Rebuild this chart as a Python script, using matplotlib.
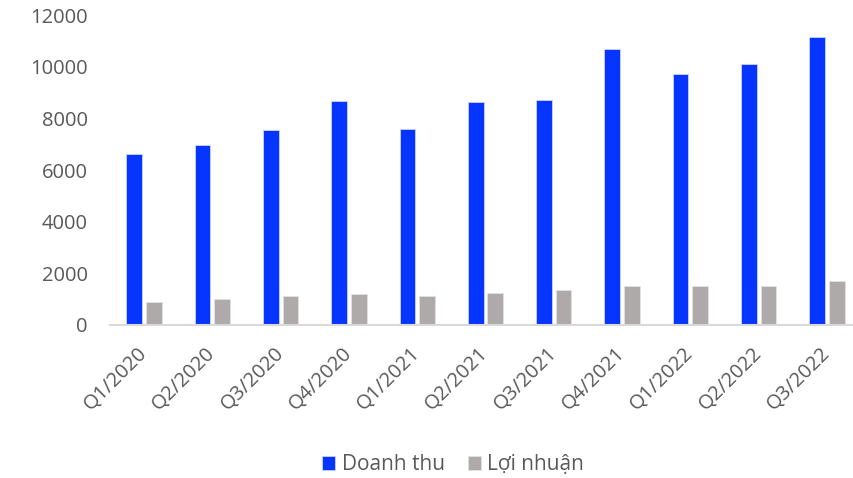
import matplotlib
matplotlib.use("Agg")
import matplotlib.pyplot as plt
import numpy as np

quarters = ["Q1/2020", "Q2/2020", "Q3/2020", "Q4/2020", "Q1/2021", "Q2/2021",
            "Q3/2021", "Q4/2021", "Q1/2022", "Q2/2022", "Q3/2022"]
doanh_thu = [6620, 6960, 7560, 8670, 7590, 8640, 8720, 10690, 9720, 10090, 11140]
loi_nhuan = [905, 1020, 1125, 1215, 1125, 1225, 1340, 1525, 1495, 1525, 1715]
y_ticks = [0, 2000, 4000, 6000, 8000, 10000, 12000]

plt.rcParams['font.family'] = ['Open Sans', 'DejaVu Sans']
text_color = '#595959'

fig = plt.figure(figsize=(8.54, 4.78), dpi=100)
ax = fig.add_axes([110/854, (478-325)/478, 751/854, 310/478])

x = np.arange(len(quarters))
w = 0.23
off = 0.144
ax.bar(x - off, doanh_thu, width=w, color='#0535FF', edgecolor='#C9D3FF',
       linewidth=0.6, label='Doanh thu')
ax.bar(x + off, loi_nhuan, width=w, color='#AEAAAA', edgecolor='#E2E0E0',
       linewidth=0.6, label='Lợi nhuận')

ax.set_xlim(-0.5, len(quarters) - 0.5)
ax.set_ylim(0, 12000)
ax.set_yticks(y_ticks)
ax.set_yticklabels([str(v) for v in y_ticks])
ax.set_xticks(x)
ax.set_xticklabels(quarters, rotation=45, ha='right', va='center',
                   rotation_mode='anchor')

ax.tick_params(axis='y', length=0, pad=16, labelsize=14.5, labelcolor=text_color)
ax.tick_params(axis='x', length=0, pad=18, labelsize=14.5, labelcolor=text_color)

for s in ['top', 'right', 'left']:
    ax.spines[s].set_visible(False)
ax.spines['bottom'].set_color('#D9D9D9')
ax.spines['bottom'].set_linewidth(1.5)

leg = fig.legend(loc='center', bbox_to_anchor=(453/854, 1 - 465/478), ncol=2,
                 frameon=False, fontsize=15, handlelength=0.65, handleheight=0.65,
                 handletextpad=0.3, columnspacing=1.1, borderaxespad=0)
for t in leg.get_texts():
    t.set_color(text_color)

fig.savefig('out.png', dpi=100)
